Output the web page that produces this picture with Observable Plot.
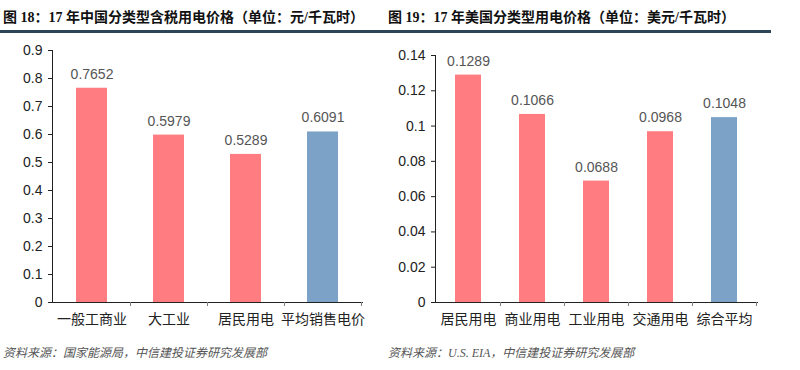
<!DOCTYPE html>
<html><head><meta charset="utf-8">
<script src="https://cdn.jsdelivr.net/npm/d3@7"></script>
<script src="https://cdn.jsdelivr.net/npm/@observablehq/plot@0.6"></script>
<style>
body{margin:0;background:#fff;}
#wrap{position:relative;width:800px;height:370px;overflow:hidden;background:#fff;font-family:"Noto Sans CJK SC",sans-serif;}
.title{position:absolute;top:6px;font-family:"Liberation Serif","Noto Sans CJK SC",serif;font-weight:700;font-size:14px;color:#111;white-space:nowrap;}
.rule{position:absolute;top:30px;left:0;width:771px;height:3px;background:#2c4658;}
.src{position:absolute;top:343px;font-family:"Liberation Serif","Noto Sans CJK SC",serif;font-style:italic;font-size:12px;color:#555;white-space:nowrap;}
.plot{position:absolute;top:35px;}
</style></head>
<body><div id="wrap">
<div class="title" style="left:3px">图 18：17 年中国分类型含税用电价格（单位：元/千瓦时）</div>
<div class="title" style="left:388px">图 19：17 年美国分类型用电价格（单位：美元/千瓦时）</div>
<div class="rule"></div>
<div id="p1" class="plot" style="left:0px"></div>
<div id="p2" class="plot" style="left:395px"></div>
<div class="src" style="left:3px">资料来源：国家能源局，中信建投证券研究发展部</div>
<div class="src" style="left:388px">资料来源：U.S. EIA，中信建投证券研究发展部</div>
</div>
<script>
// Chart 1 (China)
const cnCategories = ["一般工商业","大工业","居民用电","平均销售电价"];
const cnValues = [0.7652, 0.5979, 0.5289, 0.6091];
const cnLabels = ["0.7652","0.5979","0.5289","0.6091"];
const cnTicks = [0,0.1,0.2,0.3,0.4,0.5,0.6,0.7,0.8,0.9];
// Chart 2 (US)
const usCategories = ["居民用电","商业用电","工业用电","交通用电","综合平均"];
const usValues = [0.1289, 0.1066, 0.0688, 0.0968, 0.1048];
const usLabels = ["0.1289","0.1066","0.0688","0.0968","0.1048"];
const usTicks = [0,0.02,0.04,0.06,0.08,0.1,0.12,0.14];

const PINK = "#ff7c80", BLUE = "#7ca3c7";
const fmt = d => String(+d.toFixed(2));

function bandTicks(cats){
  return (index, scales, values, dims) => {
    const x = scales.x;
    const step = x(cats[1]) - x(cats[0]);
    const bw = typeof x.bandwidth === "function" ? x.bandwidth() : (x.bandwidth || 0);
    const y0 = dims.height - dims.marginBottom;
    const g = d3.create("svg:g").attr("stroke","#808080").attr("stroke-width",1);
    cats.forEach(c => {
      const px = Math.round(x(c) + bw/2 + step/2) + 0.5;
      g.append("line").attr("x1",px).attr("x2",px).attr("y1",y0).attr("y2",y0+4);
    });
    return g.node();
  };
}

function chart(cats, vals, labels, ticks, domain, opts){
  const data = cats.map((c,i)=>({cat:c, v:vals[i], label:labels[i], color: i===cats.length-1 ? BLUE : PINK}));
  return Plot.plot({
    width: opts.width, height: 300,
    marginTop: opts.marginTop, marginBottom: 33, marginLeft: opts.marginLeft, marginRight: opts.marginRight,
    style:{fontFamily:"Liberation Sans, Arial, 'Noto Sans CJK SC', sans-serif", fontSize:"14px", color:"#222", background:"#fff"},
    x:{domain:cats, paddingInner:0.6, paddingOuter:0.3, label:null, tickSize:0, tickPadding:12, line:true},
    y:{domain, ticks, tickFormat:fmt, label:null, tickSize:4, tickPadding:6, line:true},
    marks:[
      Plot.barY(data,{x:"cat", y:"v", fill:d=>d.color}),
      Plot.text(data,{x:"cat", y:"v", text:"label", dy:-14, fill:"#555", fontSize:14}),
      bandTicks(cats)
    ]
  });
}

const c1 = chart(cnCategories, cnValues, cnLabels, cnTicks, [0,0.9], {width:395, marginTop:15, marginLeft:52, marginRight:33});
document.getElementById("p1").append(c1);
const c2 = chart(usCategories, usValues, usLabels, usTicks, [0,0.14], {width:395, marginTop:20, marginLeft:40, marginRight:33});
document.getElementById("p2").append(c2);
</script>
</body></html>
